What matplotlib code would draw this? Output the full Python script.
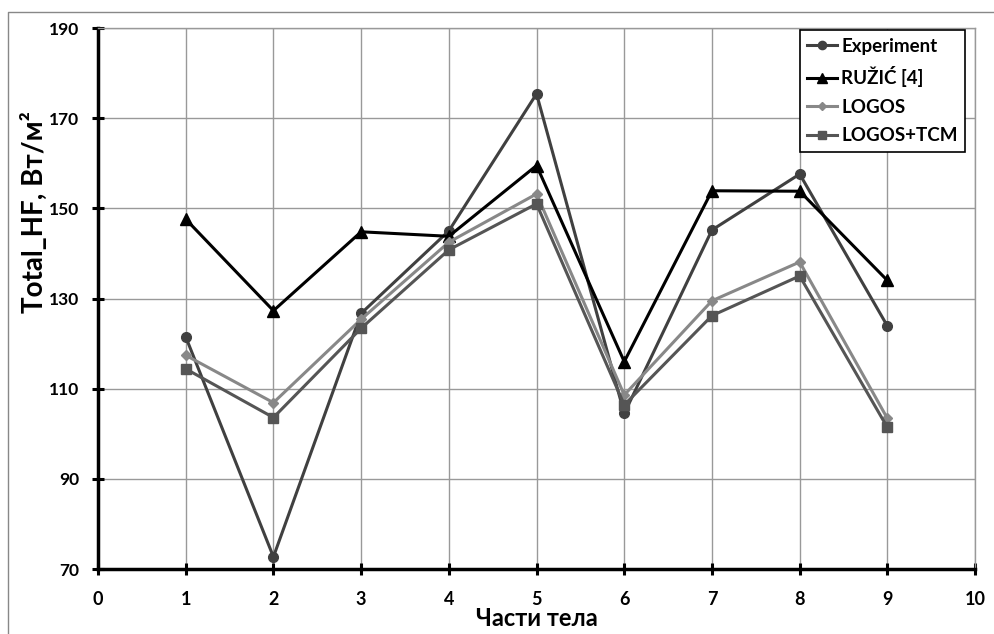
import numpy as np
import matplotlib.pyplot as plt
from matplotlib.lines import Line2D

# Data
parts = [1, 2, 3, 4, 5, 6, 7, 8, 9]
experiment = [121.5, 72.7, 126.7, 145.0, 175.4, 104.5, 145.2, 157.6, 123.9]
ruzic = [147.6, 127.3, 144.8, 143.8, 159.5, 116.0, 153.9, 153.8, 134.0]
logos = [117.4, 106.9, 125.4, 142.5, 153.2, 108.6, 129.5, 138.1, 103.4]
logos_tcm = [114.4, 103.6, 123.4, 140.8, 151.0, 106.4, 126.2, 135.0, 101.4]

x_ticks = list(range(0, 11))
y_ticks = [70, 90, 110, 130, 150, 170, 190]

plt.rcParams['font.family'] = ['Lato', 'Open Sans', 'DejaVu Sans']

fig = plt.figure(figsize=(9.95, 6.34), dpi=100)
ax = fig.add_axes([0.0985, 0.1025, 0.8815, 0.8533])

# chart area frame (only top and left edges fall inside the picture)
fig.lines.append(Line2D([0.008, 0.008, 1.0], [0.0, 0.981, 0.981], transform=fig.transFigure,
                        color='#888888', linewidth=1.0))

ax.plot(parts, experiment, color='#404040', marker='o', markersize=7, linewidth=2.2, label='Experiment')
ax.plot(parts, ruzic, color='black', marker='^', markersize=8, linewidth=2.2, label='RUŽIĆ [4]')
ax.plot(parts, logos, color='#888888', marker='D', markersize=5, linewidth=2.2, label='LOGOS')
ax.plot(parts, logos_tcm, color='#555555', marker='s', markersize=7, linewidth=2.2, label='LOGOS+TCM')

ax.set_xlim(0, 10)
ax.set_ylim(70, 190)
ax.set_xticks(x_ticks)
ax.set_yticks(y_ticks)
ax.grid(True, color='#999999', linewidth=1.0)
ax.set_axisbelow(True)

for s in ['top', 'right']:
    ax.spines[s].set_color('#999999')
    ax.spines[s].set_linewidth(1.0)
for s in ['left', 'bottom']:
    ax.spines[s].set_color('black')
    ax.spines[s].set_linewidth(2.5)

ax.tick_params(axis='both', direction='inout', length=9, width=2.2, labelsize=13)
ax.tick_params(axis='x', pad=11.5)
ax.tick_params(axis='y', pad=9, labelsize=12.5)
for lbl in ax.get_xticklabels() + ax.get_yticklabels():
    lbl.set_fontweight('bold')

ax.set_xlabel('Части тела', fontsize=17, fontweight='bold')
ax.xaxis.set_label_coords(0.5, -0.071)
ax.set_ylabel('Total_HF, Вт/м²', fontsize=20, fontweight='bold')
ax.yaxis.set_label_coords(-0.073, 0.66)
ax.yaxis.label.set_verticalalignment('center')

leg = ax.legend(loc='upper right', bbox_to_anchor=(0.9886, 0.9963), borderaxespad=0,
                fancybox=False, framealpha=1, edgecolor='black', handlelength=1.6,
                handletextpad=0.2, borderpad=0.4, labelspacing=0.62, markerscale=0.85,
                prop={'weight': 'bold', 'size': 13.5})
leg.get_frame().set_linewidth(1.2)

fig.savefig('out.png', dpi=100)
